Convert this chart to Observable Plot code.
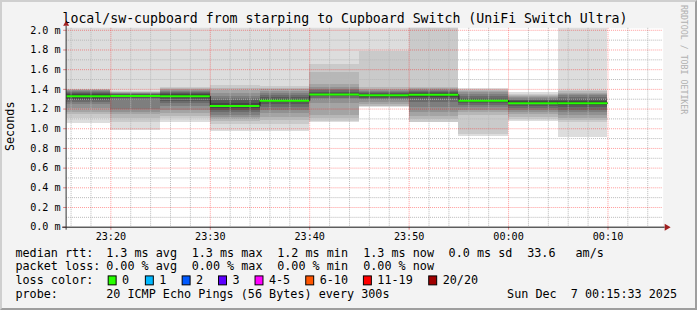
<!DOCTYPE html>
<html><head><meta charset="utf-8">
<script src="https://cdn.jsdelivr.net/npm/d3@7"></script>
<script src="https://cdn.jsdelivr.net/npm/@observablehq/plot@0.6"></script>
<style>
html,body{margin:0;padding:0;background:#fff;}
#wrap{position:relative;width:697px;height:310px;box-sizing:border-box;background:#f3f3f3;
 border-top:2px solid #cfcfcf;border-left:2px solid #cfcfcf;border-right:2px solid #9e9e9e;border-bottom:2px solid #9e9e9e;overflow:hidden}
#wrap svg{position:absolute;left:-2px;top:-2px}
</style></head><body><div id="wrap"></div>
<script>
// ---- data ----
const title = "local/sw-cupboard from starping to Cupboard Switch (UniFi Switch Ultra)";
const yLabel = "Seconds";
const watermark = "RRDTOOL / TOBI OETIKER";
const rangeStart = "2025-12-06T23:15:33Z";
const rangeEnd = "2025-12-07T00:15:33Z";
const stepSeconds = 300;
const barStarts = ["23:15","23:20","23:25","23:30","23:35","23:40","23:45","23:50","23:55","00:00","00:05"];
const medians = [1.33, 1.333, 1.33, 1.23, 1.285, 1.347, 1.34, 1.345, 1.285, 1.26, 1.26];
// 20 sorted ping rtts (ms) per step
const pings = [
 [1.05,1.10,1.14,1.17,1.21,1.25,1.27,1.29,1.30,1.32,1.34,1.35,1.36,1.37,1.38,1.385,1.39,1.395,1.40,2.3],
 [0.98,1.06,1.10,1.14,1.17,1.195,1.29,1.31,1.32,1.33,1.335,1.34,1.345,1.35,1.355,1.36,1.365,1.37,1.38,2.2],
 [1.06,1.10,1.12,1.15,1.19,1.23,1.26,1.28,1.30,1.32,1.34,1.35,1.36,1.37,1.38,1.39,1.40,1.41,1.42,2.2],
 [0.975,1.04,1.07,1.09,1.11,1.13,1.16,1.19,1.21,1.225,1.235,1.26,1.29,1.31,1.33,1.36,1.39,1.41,1.435,2.2],
 [0.975,1.04,1.08,1.11,1.15,1.19,1.22,1.245,1.265,1.28,1.29,1.30,1.32,1.34,1.36,1.38,1.395,1.41,1.43,2.2],
 [1.065,1.075,1.10,1.13,1.26,1.29,1.31,1.325,1.335,1.34,1.35,1.36,1.37,1.385,1.40,1.42,1.45,1.57,1.65,2.3],
 [1.22,1.225,1.23,1.25,1.27,1.29,1.30,1.31,1.32,1.335,1.345,1.35,1.36,1.37,1.38,1.39,1.40,1.42,1.78,2.3],
 [1.06,1.065,1.09,1.12,1.16,1.22,1.27,1.30,1.32,1.34,1.35,1.36,1.37,1.38,1.39,1.40,1.41,1.42,2.3,2.4],
 [0.925,0.94,1.13,1.16,1.19,1.22,1.24,1.26,1.27,1.28,1.29,1.30,1.31,1.33,1.35,1.37,1.38,1.39,1.40,1.41],
 [1.075,1.09,1.11,1.14,1.17,1.19,1.21,1.23,1.245,1.255,1.265,1.275,1.29,1.30,1.31,1.32,1.33,1.34,1.35,1.365],
 [0.915,1.06,1.08,1.10,1.13,1.16,1.19,1.22,1.24,1.255,1.265,1.28,1.30,1.32,1.34,1.35,1.36,1.375,1.39,2.3]
];
const xTickLabels = ["23:20","23:30","23:40","23:50","00:00","00:10"];
const yTickValues = [0,0.2,0.4,0.6,0.8,1.0,1.2,1.4,1.6,1.8,2.0];
const yMax = 2.02;
const smokeGrays = ["#dddddd","#cacaca","#b7b7b7","#a4a4a4","#919191","#7e7e7e","#6b6b6b","#585858","#454545","#323232"];
const rttLabel = "median rtt:";
const rttStats = ["1.3 ms avg","1.3 ms max","1.2 ms min","1.3 ms now","0.0 ms sd","33.6","am/s"];
const lossLabel = "packet loss:";
const lossStats = ["0.00 % avg","0.00 % max","0.00 % min","0.00 % now"];
const lossColorLabel = "loss color:";
const lossLabels = ["0","1","2","3","4-5","6-10","11-19","20/20"];
const lossColors = ["#26ff00","#00b8ff","#0059ff","#5e00ff","#ff00ff","#ff5500","#ff0000","#a00000"];
const probeLabel = "probe:";
const probeText = "20 ICMP Echo Pings (56 Bytes) every 300s";
const stamp = "Sun Dec  7 00:15:33 2025";

// ---- build ----
const toDate = s => new Date((+s.slice(0,2) >= 12 ? "2025-12-06" : "2025-12-07") + "T" + s + ":00Z");
const bars = barStarts.map((s, i) => {
  const x1 = toDate(s);
  return {x1, x2: new Date(+x1 + stepSeconds*1000), median: medians[i], p: pings[i]};
});
const smokeRows = [];
bars.forEach(b => {
  for (let k = 0; k < 10; k++) smokeRows.push({x1: b.x1, x2: b.x2, y1: b.p[k], y2: b.p[19-k], fill: smokeGrays[k]});
});
const stepRows = bars.map(b => ({x: b.x1, y: b.median})).concat([{x: bars[bars.length-1].x2, y: bars[bars.length-1].median}]);
const xTicks = xTickLabels.map(toDate);
const t0 = new Date(rangeStart), t1 = new Date(rangeEnd);
const minorX = d3.utcMinute.every(2).range(t0, t1).filter(d => d.getUTCMinutes() % 10 !== 0);
const minorY = d3.range(1, 20, 2).map(d => d / 10);
const fmt = d3.utcFormat("%H:%M");
const FONT = "'DejaVu Sans Mono', monospace";

const plot = Plot.plot({
  width: 697, height: 310,
  marginLeft: 66.5, marginRight: 30.5, marginTop: 28, marginBottom: 82,
  x: {type: "utc", domain: [t0, t1]},
  y: {domain: [0, yMax]},
  color: {type: "identity"},
  style: {background: "transparent", fontFamily: FONT, fontSize: "10.2px", color: "#000", overflow: "visible"},
  marks: [
    Plot.frame({fill: "white", stroke: "none"}),
    Plot.rect(smokeRows, {x1: "x1", x2: "x2", y1: "y1", y2: "y2", fill: "fill", inset: 0, clip: true, shapeRendering: "crispEdges"}),
    Plot.ruleX(minorX, {stroke: "#b8b8b8", strokeDasharray: "1,1"}),
    Plot.ruleY(minorY, {stroke: "#b8b8b8", strokeDasharray: "1,1"}),
    Plot.ruleX(xTicks, {stroke: "#ff0000", strokeOpacity: 0.4, strokeDasharray: "1,1"}),
    Plot.ruleY(yTickValues.slice(1), {stroke: "#ff0000", strokeOpacity: 0.4, strokeDasharray: "1,1"}),
    Plot.line(stepRows, {x: "x", y: "y", curve: "step-after", stroke: "#202020", strokeWidth: 1, clip: true}),
    Plot.ruleY(bars, {x1: "x1", x2: "x2", y: "median", stroke: "#26ff00", strokeWidth: 2, clip: true}),
    Plot.axisY({ticks: yTickValues, tickFormat: d => d.toFixed(1) + " m", tickSize: 3, tickPadding: 3, stroke: "#e08080", fill: "#000", label: null}),
    Plot.axisX({ticks: xTicks, tickFormat: fmt, tickSize: 3, tickPadding: 3, stroke: "#e08080", fill: "#000", label: null})
  ]
});
document.getElementById("wrap").appendChild(plot);

// decorations: axis lines, arrows, texts
const svg = d3.select(plot);
const xr = plot.scale("x").range, yr = plot.scale("y").range; // yr = [bottom, top]
const ax = xr[0], ay = yr[0];
svg.append("line").attr("x1", ax - 4).attr("x2", xr[1] + 2).attr("y1", ay + 0.5).attr("y2", ay + 0.5).attr("stroke", "#111");
svg.append("line").attr("x1", ax).attr("x2", ax).attr("y1", ay + 3).attr("y2", yr[1] - 2).attr("stroke", "#333");
svg.append("path").attr("d", `M${xr[1]+2},${ay-3}L${xr[1]+8},${ay+0.5}L${xr[1]+2},${ay+4}Z`).attr("fill", "#a02020");
svg.append("path").attr("d", `M${ax-3},${yr[1]-2}L${ax},${yr[1]-7.5}L${ax+3},${yr[1]-2}Z`).attr("fill", "#a02020");

const txt = (x, y, s, size, opts = {}) => svg.append("text").attr("x", x).attr("y", y)
  .attr("font-family", FONT).attr("font-size", size).attr("fill", opts.fill || "#000")
  .attr("text-anchor", opts.anchor || "start").attr("transform", opts.transform || null)
  .style("white-space", "pre").text(s);

txt(347, 23.5, title, "13.3px", {anchor: "middle"});
txt(0, 0, yLabel, "11.85px", {anchor: "middle", transform: "translate(14.5,127) rotate(-90)"});
txt(0, 0, watermark, "8.3px", {fill: "#b0b0b0", transform: "translate(685,5) rotate(90)"});

const LF = "11.85px";
const statX = [106.8, 192.8, 278.8, 365.3, 451.2, 530.2, 578.8];
txt(15.5, 258.5, rttLabel, LF);
rttStats.forEach((s, i) => txt(statX[i], 258.5, s, LF));
txt(15.5, 272, lossLabel, LF);
lossStats.forEach((s, i) => txt(statX[i], 272, s, LF));
txt(15.5, 285.7, lossColorLabel, LF);
const sqX = [108.3, 145.7, 182.7, 219.3, 256, 307, 365, 430.7];
lossLabels.forEach((s, i) => {
  svg.append("rect").attr("x", sqX[i] + 0.5).attr("y", 277.5).attr("width", 8).attr("height", 9)
    .attr("fill", lossColors[i]).attr("stroke", "#000").attr("stroke-width", 1);
  txt(sqX[i] + 14.5, 285.7, s, LF);
});
txt(15.5, 299.3, probeLabel, LF);
txt(106.8, 299.3, probeText, LF);
txt(681, 299.3, stamp, LF, {anchor: "end"});
</script></body></html>
